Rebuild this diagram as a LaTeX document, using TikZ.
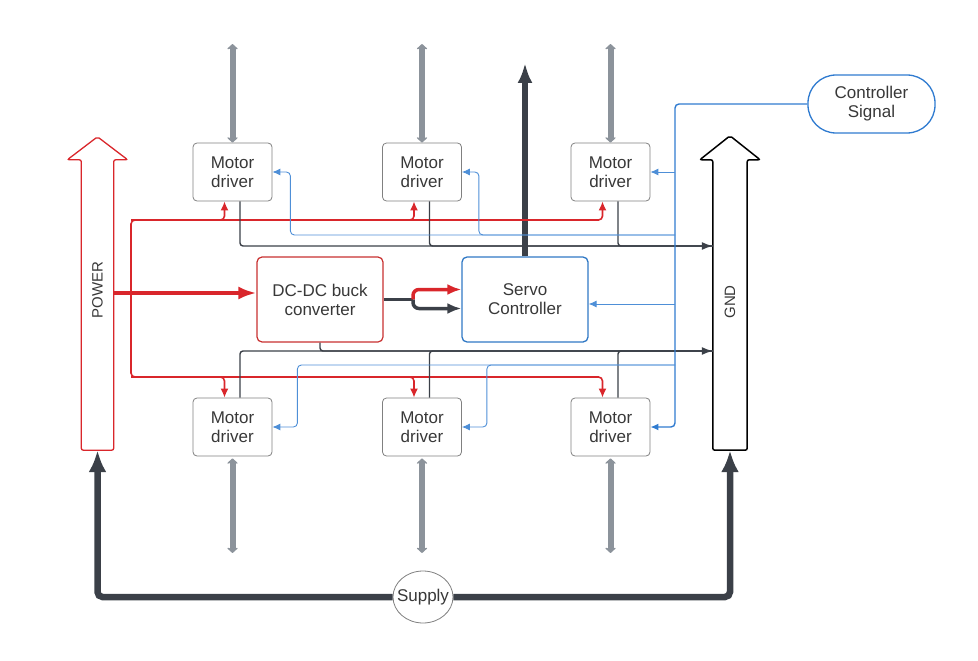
\documentclass[tikz,border=0pt]{standalone}
\usepackage{fontspec}
\setmainfont{Liberation Sans}
\usetikzlibrary{arrows.meta,shapes.geometric}

\definecolor{pwrred}{HTML}{D9262B}
\definecolor{buckred}{HTML}{C8302F}
\definecolor{gndgray}{HTML}{3B4048}
\definecolor{sigblue}{HTML}{2F7BD0}
\definecolor{servoblue}{HTML}{2F78C4}
\definecolor{boxgray}{HTML}{808080}
\definecolor{motgray}{HTML}{8C939B}
\definecolor{txtgray}{HTML}{383838}

\newcommand{\boxfont}{\fontsize{17}{19}\selectfont}

\tikzset{
	driver/.style={draw=boxgray, line width=0.8pt, rounded corners=4pt, minimum width=79pt, minimum height=58pt, align=center, text=txtgray, font=\boxfont},
	buckbox/.style={draw=buckred, line width=1.2pt, rounded corners=5pt, minimum width=126pt, minimum height=85pt, align=center, text=txtgray, font=\boxfont},
	servobox/.style={draw=servoblue, line width=1.3pt, rounded corners=5pt, minimum width=126pt, minimum height=85pt, align=center, text=txtgray, font=\boxfont},
	sigbox/.style={draw=sigblue, line width=1.3pt, rounded corners=28pt, minimum width=127pt, minimum height=58pt, align=center, text=txtgray, font=\boxfont},
	supplybox/.style={ellipse, draw=boxgray, line width=0.8pt, fill=white, minimum width=60pt, minimum height=52pt, inner sep=0pt, text=txtgray, font=\boxfont},
	rail/.style={minimum width=32pt, minimum height=290pt, inner sep=0pt},
	raillabel/.style={rotate=90, text=txtgray, font=\fontsize{15}{17}\selectfont},
	motshaft/.style={motgray, line width=6pt, arrows={Stealth[length=6pt,width=13pt,round]-Stealth[length=6pt,width=13pt,round]}},
	servoarrow/.style={gndgray, line width=5.5pt, -{Latex[length=20pt,width=15pt]}},
	supplyline/.style={gndgray, line width=6.5pt, rounded corners=5pt, -{Latex[length=22pt,width=18pt]}},
	redthick/.style={pwrred, line width=3.5pt, -{Latex[length=18pt,width=13pt]}},
	redline/.style={pwrred, line width=1.6pt, rounded corners=4pt},
	redtip/.style={-{Latex[length=9pt,width=8pt]}},
	gndline/.style={gndgray, line width=1.4pt, rounded corners=3pt},
	gndtip/.style={-{Latex[length=11pt,width=8pt]}},
	gndthick/.style={gndgray, line width=3.5pt},
	redfork/.style={pwrred, line width=3.5pt, rounded corners=6pt, -{Latex[length=14pt,width=11pt]}},
	gndfork/.style={gndgray, line width=3.5pt, rounded corners=6pt, -{Latex[length=14pt,width=11pt]}},
	sigmain/.style={sigblue, line width=1.4pt, rounded corners=4pt},
	sigline/.style={sigblue!85!white, line width=0.9pt, rounded corners=4pt},
	sigtip/.style={-{Latex[length=8pt,width=7pt]}}
}

\begin{document}
\begin{tikzpicture}[x=1pt,y=-1pt]
	\useasboundingbox (0,0) rectangle (978,661);
	
	% power and ground rails
	\node[rail] (power) at (97.5,305) {};
	\node[rail, minimum width=34pt] (gnd) at (730,305) {};
	\draw[pwrred, line width=1.3pt, rounded corners=2pt] (power.south west) -- (power.north west) -- ([xshift=-14pt]power.north west) -- ([yshift=23pt]power.north) -- ([xshift=14pt]power.north east) -- (power.north east) -- (power.south east) -- cycle;
	\draw[black, line width=1.5pt, rounded corners=2pt] (gnd.south west) -- (gnd.north west) -- ([xshift=-13pt]gnd.north west) -- ([yshift=24pt]gnd.north) -- ([xshift=13pt]gnd.north east) -- (gnd.north east) -- (gnd.south east) -- cycle;
	\node[raillabel] (powertxt) at (97.5,290) {POWER};
	\node[raillabel] (gndtxt) at (730,302) {GND};
	
	% motor drivers
	\node[driver] (d1) at (232.5,172) {Motor\\driver};
	\node[driver] (d2) at (422,172) {Motor\\driver};
	\node[driver] (d3) at (610.5,172) {Motor\\driver};
	\node[driver] (d4) at (232.5,427) {Motor\\driver};
	\node[driver] (d5) at (422,427) {Motor\\driver};
	\node[driver] (d6) at (610.5,427) {Motor\\driver};
	
	\node[buckbox] (buck) at (320,299.5) {DC-DC buck\\converter};
	\node[servobox] (servo) at (525,299.5) {Servo\\Controller};
	\node[sigbox] (signal) at (871.5,104) {Controller\\Signal};
	\node[supplybox] (supply) at (423,597) {\makebox[0pt]{Supply}};
	
	% motor outputs
	\coordinate (m1) at (232.5,44);
	\coordinate (m2) at (422,44);
	\coordinate (m3) at (610.5,44);
	\coordinate (m4) at (232.5,553);
	\coordinate (m5) at (422,553);
	\coordinate (m6) at (610.5,553);
	\draw[motshaft] (m1) -- (d1.north);
	\draw[motshaft] (m2) -- (d2.north);
	\draw[motshaft] (m3) -- (d3.north);
	\draw[motshaft] ([yshift=-2pt]d4.south) -- (m4);
	\draw[motshaft] ([yshift=-2pt]d5.south) -- (m5);
	\draw[motshaft] ([yshift=-2pt]d6.south) -- (m6);
	
	\coordinate (sout) at (525,63);
	\draw[servoarrow] (servo.north) -- (sout);
	
	% supply
	\draw[supplyline] (supply.west) -| (power.south);
	\draw[supplyline] (supply.east) -| (gnd.south);
	
	% power bus
	\draw[redthick] ([yshift=12pt]power.east) -- ([yshift=6.5pt]buck.west);
	\coordinate (rtop) at (131,220);
	\coordinate (rbot) at (131,377);
	\draw[redline, arrows={Latex[length=9pt,width=8pt]-Latex[length=9pt,width=8pt]}] ([xshift=-8pt]d3.south) |- (rtop) -- (rbot) -| ([xshift=-8pt]d6.north);
	\draw[redline, redtip] (rtop) -| ([xshift=-8pt]d1.south);
	\draw[redline, redtip] (rtop) -| ([xshift=-8pt]d2.south);
	\draw[redline, redtip] (rbot) -| ([xshift=-8pt]d4.north);
	\draw[redline, redtip] (rbot) -| ([xshift=-8pt]d5.north);
	
	% ground bus
	\draw[gndline, gndtip] ([xshift=7.5pt]d1.south) |- ([yshift=59pt]gnd.west);
	\draw[gndline] ([xshift=7.5pt]d2.south) |- ([yshift=59pt]gnd.west);
	\draw[gndline] ([xshift=7.5pt]d3.south) |- ([yshift=59pt]gnd.west);
	\draw[gndline, gndtip] ([xshift=7.5pt]d4.north) |- ([yshift=-46pt]gnd.west);
	\draw[gndline] ([xshift=7.5pt]d5.north) |- ([yshift=-46pt]gnd.west);
	\draw[gndline] ([xshift=7.5pt]d6.north) |- ([yshift=-46pt]gnd.west);
	\draw[gndline] (buck.south) |- ([yshift=-46pt]gnd.west);
	
	% buck to servo
	\coordinate (split) at (413,299.5);
	\draw[gndthick] (buck.east) -- (split);
	\draw[redfork] (split) |- ([yshift=10pt]servo.west);
	\draw[gndfork] (split) |- ([yshift=-9pt]servo.west);
	
	% controller signal
	\coordinate (strunk) at (675,427);
	\coordinate (sb) at (675,235);
	\coordinate (sc) at (675,304);
	\coordinate (sd) at (675,365);
	\draw[sigmain, sigtip] (signal.west) -| (strunk) -- (d6.east);
	\draw[sigline, sigtip] (strunk |- d3.east) -- (d3.east);
	\draw[sigline, sigtip] (sb) -| ([xshift=17pt]d2.east) -- (d2.east);
	\draw[sigline, sigtip] (sb) -| ([xshift=18pt]d1.east) -- (d1.east);
	\draw[sigline, sigtip] (sc) -- (sc -| servo.east);
	\draw[sigline, sigtip] (sd) -| ([xshift=25pt]d4.east) -- (d4.east);
	\draw[sigline, sigtip] (sd) -| ([xshift=25pt]d5.east) -- (d5.east);
\end{tikzpicture}
\end{document}
